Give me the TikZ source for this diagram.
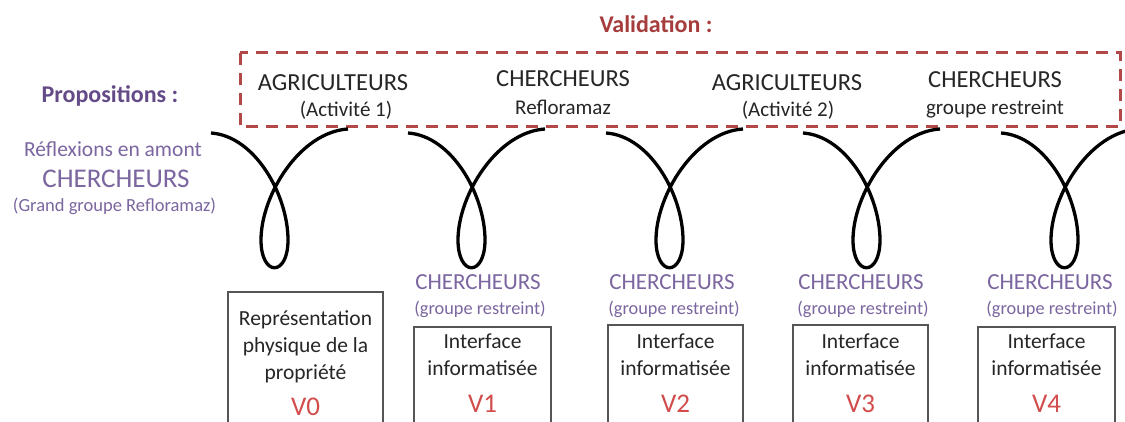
\documentclass[tikz,border=0pt]{standalone}
\usepackage{fontspec}
\setmainfont{Carlito}
\definecolor{txt}{HTML}{262626}
\definecolor{valred}{HTML}{A63C3C}
\definecolor{dashred}{HTML}{B34848}
\definecolor{vred}{HTML}{D24C4C}
\definecolor{purD}{HTML}{644B88}
\definecolor{purL}{HTML}{7B66A0}
\definecolor{boxgray}{HTML}{555555}
\newcommand{\fsz}[1]{\fontsize{#1}{#1}\selectfont}
\begin{document}
\begin{tikzpicture}[x=1pt,y=-1pt,
  lbl/.style={anchor=base,inner sep=0pt,text=txt},
  plbl/.style={anchor=base,inner sep=0pt,text=purL},
  vlbl/.style={anchor=base,inner sep=0pt,text=vred,font=\fsz{27}},
  boxtxt/.style={anchor=base,inner sep=0pt,text=txt,font=\fsz{21.5}},
  verbox/.style={draw=boxgray,line width=1.5pt},
  valbox/.style={draw=dashred,line width=3pt,dash pattern=on 12pt off 8pt},
  loopline/.style={draw=black,line width=3.3pt},
  loopy/.pic={\draw[loopline] (-64,133) .. controls (-20,136) and (13,195) .. (13,240)
      .. controls (13,277) and (-14,277) .. (-14,240)
      .. controls (-14,195) and (25,132) .. (73,129);}
]
\clip (0,0) rectangle (1125,422);
\fill[white] (0,0) rectangle (1125,422);

% validation dashed frame
\draw[valbox] (240,53) rectangle (1120,127);
\node[anchor=base,inner sep=0pt,text=valred,font=\bfseries\fsz{24}] (val) at (656,33) {Validation :};

% left labels
\node[anchor=base,inner sep=0pt,text=purD,font=\bfseries\fsz{24}] (prop) at (110,103) {Propositions :};
\node[plbl,font=\fsz{21.5}] (refl) at (113,157) {Réflexions en amont};
\node[plbl,font=\fsz{27}] (chL) at (116,188) {CHERCHEURS};
\node[plbl,font=\fsz{18.5}] (grand) at (114.5,212) {(Grand groupe Refloramaz)};

% top labels
\node[lbl,font=\fsz{24.5}] (t1) at (333,91) {AGRICULTEURS};
\node[lbl,font=\fsz{21}] (t1b) at (346,117) {(Activité 1)};
\node[lbl,font=\fsz{24.5}] (t2) at (563,87) {CHERCHEURS};
\node[lbl,font=\fsz{21}] (t2b) at (563,115) {Refloramaz};
\node[lbl,font=\fsz{24.5}] (t3) at (787,91) {AGRICULTEURS};
\node[lbl,font=\fsz{21}] (t3b) at (788,117) {(Activité 2)};
\node[lbl,font=\fsz{24.5}] (t4) at (995,88) {CHERCHEURS};
\node[lbl,font=\fsz{21}] (t4b) at (995,115) {groupe restreint};

% loops
\pic (l0) at (275,0) {loopy};
\pic (l1) at (472,0) {loopy};
\pic (l2) at (670,0) {loopy};
\pic (l3) at (867,0) {loopy};
\pic (l4) at (1065,0) {loopy};

% lower researcher labels
\foreach \x/\n in {478/1,672/2,861/3,1050/4}{
  \node[plbl,font=\fsz{23}] (c\n) at (\x,290) {CHERCHEURS};
  \node[plbl,font=\fsz{18.3}] (g\n) at (\x+2,315) {(groupe restreint)};
}

% version boxes
\draw[verbox] (228,292) rectangle (383,440);
\node[boxtxt] (b0a) at (305.5,325) {Représentation};
\node[boxtxt] (b0b) at (305.5,352) {physique de la};
\node[boxtxt] (b0c) at (305.5,379) {propriété};
\node[vlbl] (v0) at (305.5,415) {V0};

\draw[verbox] (414,327) rectangle (551,440);
\draw[verbox] (608,325) rectangle (743,440);
\draw[verbox] (793,325) rectangle (928,440);
\draw[verbox] (978,327) rectangle (1115,440);
\foreach \x/\v in {482.5/1,675.5/2,860.5/3,1046.5/4}{
  \node[boxtxt] (bi\v) at (\x,348.5) {Interface};
  \node[boxtxt] (bf\v) at (\x,375.5) {informatisée};
  \node[vlbl] (v\v) at (\x,412) {V\v};
}
\end{tikzpicture}
\end{document}
